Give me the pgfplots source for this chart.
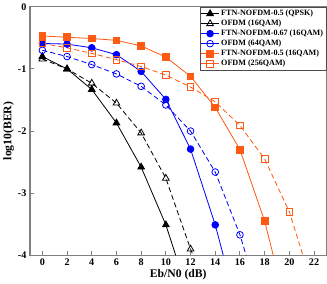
\documentclass[border=0pt]{standalone}
\usepackage{pgfplots}
\pgfplotsset{compat=1.18}
\usepackage{fontspec}
\setmainfont{Liberation Serif}
\definecolor{myorange}{RGB}{255,90,20}
\definecolor{myblue}{RGB}{0,0,255}
\definecolor{framegray}{RGB}{128,128,128}
\begin{document}
\begin{tikzpicture}
\begin{axis}[
  scale only axis,
  width=291bp, height=244bp,
  xmin=-1, xmax=23, ymin=-4, ymax=0,
  xtick={0,2,...,22}, ytick={-4,-3,-2,-1,0},
  tick pos=left, tick align=inside,
  major tick length=4bp,
  axis line style={framegray, line width=1.2pt},
  every tick/.style={framegray, line width=1pt},
  /pgf/number format/assume math mode=true,
  tick label style={font=\fontsize{10}{11}\selectfont\bfseries},
  label style={font=\fontsize{11.5}{13}\selectfont\bfseries},
  xlabel={Eb/N0 (dB)},
  ylabel={log10(BER)},
  xlabel style={yshift=3bp},
  ylabel style={yshift=-3bp},
  legend style={at={(rel axis cs:1,1)}, anchor=north east,
    font=\fontsize{8}{9}\selectfont\bfseries,
    draw=black!70, line width=0.5pt, inner sep=1pt,
    row sep=-1.2pt, cells={anchor=west}},
  legend cell align=left,
  legend image code/.code={\draw[solid, mark indices={2}] plot coordinates {(0cm,0cm) (0.3cm,0cm) (0.6cm,0cm)};},
  every axis plot/.append style={line width=0.8pt},
]
\addplot[black, mark=triangle*, mark size=3.8pt, mark options={solid}, mark indices={1,2,3,4,5,6}]
  coordinates {(0,-0.80) (2,-1.00) (4,-1.33) (6,-1.87) (8,-2.58) (10,-3.51) (10.8,-4)};
\addlegendentry{FTN-NOFDM-0.5 (QPSK)}
\addplot[black, dash pattern=on 5pt off 3pt, mark=triangle, mark size=3.8pt, mark options={solid, fill=white}, mark indices={1,2,3,4,5,6,7}]
  coordinates {(0,-0.84) (2,-1.00) (4,-1.23) (6,-1.55) (8,-2.03) (10,-2.76) (12,-3.90) (12.2,-4)};
\addlegendentry{OFDM (16QAM)}
\addplot[myblue, mark=*, mark size=3.3pt, mark options={solid}, mark indices={1,2,3,4,5,6,7,8}]
  coordinates {(0,-0.59) (2,-0.60) (4,-0.66) (6,-0.77) (8,-1.04) (10,-1.49) (12,-2.29) (14,-3.51) (14.65,-4)};
\addlegendentry{FTN-NOFDM-0.67 (16QAM)}
\addplot[myblue, dash pattern=on 5pt off 3pt, mark=o, mark size=3.3pt, mark options={solid, fill=white}, mark indices={1,2,3,4,5,6,7,8,9}]
  coordinates {(0,-0.70) (2,-0.80) (4,-0.93) (6,-1.08) (8,-1.28) (10,-1.58) (12,-2.00) (14,-2.66) (16,-3.67) (16.5,-4)};
\addlegendentry{OFDM (64QAM)}
\addplot[myorange, mark=square*, mark size=3.3pt, mark options={solid}, mark indices={1,2,3,4,5,6,7,8,9,10}]
  coordinates {(0,-0.47) (2,-0.49) (4,-0.51) (6,-0.54) (8,-0.63) (10,-0.81) (12,-1.12) (14,-1.62) (16,-2.30) (18,-3.45) (18.7,-4)};
\addlegendentry{FTN-NOFDM-0.5 (16QAM)}
\addplot[myorange, dash pattern=on 5pt off 3pt, mark=square, mark size=3.3pt, mark options={solid, fill=white}, mark indices={1,2,3,4,5,6,7,8,9,10,11}]
  coordinates {(0,-0.59) (2,-0.66) (4,-0.75) (6,-0.85) (8,-0.96) (10,-1.10) (12,-1.29) (14,-1.53) (16,-1.91) (18,-2.45) (20,-3.30) (21.1,-4)};
\addlegendentry{OFDM (256QAM)}
\end{axis}
\end{tikzpicture}
\end{document}
